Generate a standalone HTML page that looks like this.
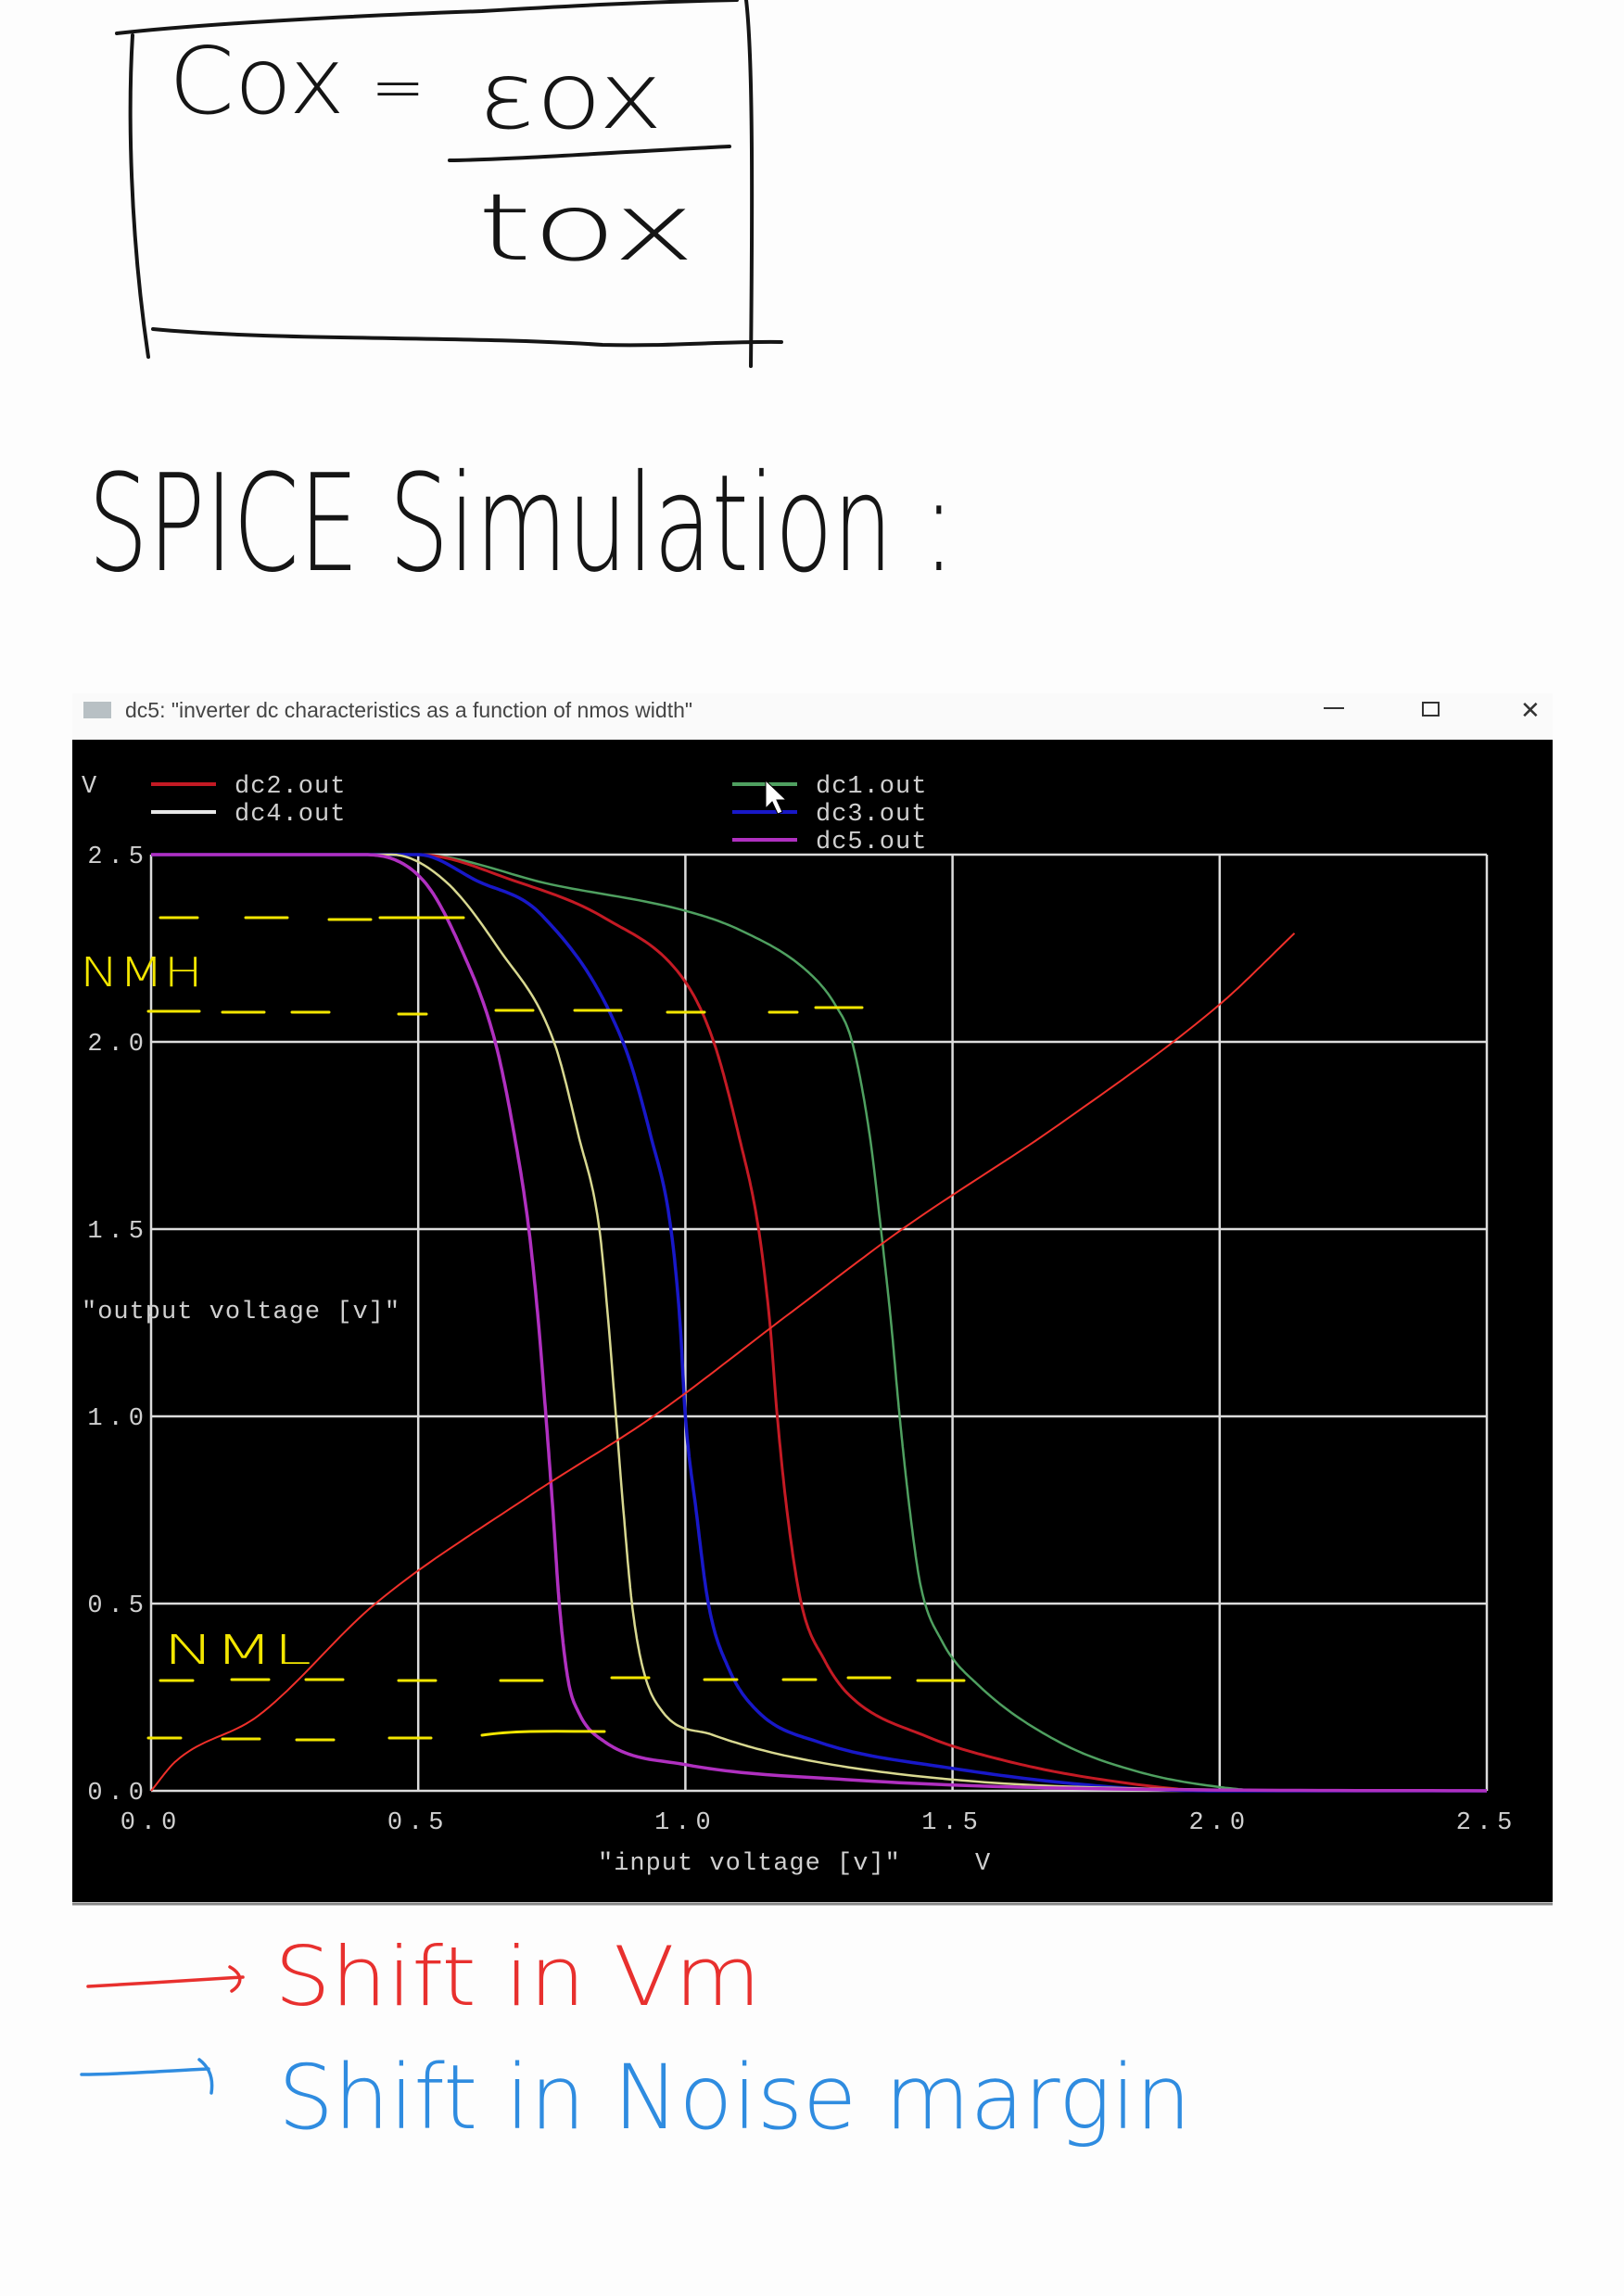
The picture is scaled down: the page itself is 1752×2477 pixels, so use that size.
<!DOCTYPE html>
<html><head><meta charset="utf-8">
<style>
html,body{margin:0;padding:0;background:#fdfdfd;}
svg{display:block;}
.hw{font-family:"DejaVu Sans","Liberation Sans",sans-serif;font-weight:200;}
.mono{font-family:"Liberation Mono","DejaVu Sans Mono",monospace;fill:#d0d0d0;font-size:27px;}
</style></head>
<body>
<svg id="page" width="1752" height="2477" viewBox="0 0 1752 2477" xmlns="http://www.w3.org/2000/svg">
<rect x="0" y="0" width="1752" height="2477" fill="#fdfdfd"/>
<g fill="none" stroke="#151515" stroke-width="4" stroke-linecap="round">
<path d="M126 36 C180 30 300 20 520 12 C620 6 700 2 795 0"/>
<path d="M143 38 C138 120 140 250 160 385"/>
<path d="M805 0 C812 60 812 200 810 395"/>
<path d="M165 355 C300 368 500 362 650 372 C720 374 780 368 843 369"/>
<path d="M485 173 C560 172 700 162 787 158"/>
</g>
<text class="hw" x="182" y="122" font-size="100" fill="#151515" textLength="190" lengthAdjust="spacingAndGlyphs">Cox</text>
<text class="hw" x="400" y="118" font-size="70" fill="#151515">=</text>
<text class="hw" x="515" y="138" font-size="100" fill="#151515" textLength="200" lengthAdjust="spacingAndGlyphs">εox</text>
<text class="hw" x="515" y="280" font-size="100" fill="#151515" textLength="235" lengthAdjust="spacingAndGlyphs">tox</text>
<text class="hw" x="95" y="615" font-size="145" fill="#151515" textLength="935" lengthAdjust="spacingAndGlyphs">SPICE Simulation :</text>

<rect x="78" y="748" width="1597" height="50" fill="#fafafa"/>
<rect x="90" y="757" width="30" height="18" fill="#b8c0c4"/>
<text x="135" y="774" font-family="Liberation Sans,sans-serif" font-size="23" fill="#444">dc5: "inverter dc characteristics as a function of nmos width"</text>
<line x1="1428" y1="764" x2="1450" y2="764" stroke="#333" stroke-width="2"/>
<rect x="1535" y="758" width="17" height="14" fill="none" stroke="#333" stroke-width="2"/>
<text x="1640" y="775" font-family="Liberation Sans,sans-serif" font-size="26" fill="#333">✕</text>

<rect x="78" y="798" width="1597" height="1254" fill="#000"/>
<line x1="78" y1="2054" x2="1675" y2="2054" stroke="#888" stroke-width="3"/>
<g id="chart"></g>

<g stroke="#f3e600" stroke-width="3" fill="none" stroke-linecap="round">
<path d="M173 990 h40 M265 990 h45 M355 992 h45 M410 990 h45 M450 990 h50" />
<path d="M160 1091 h55 M240 1092 h45 M315 1092 h40 M430 1094 h30 M535 1090 h40 M620 1090 h50 M720 1092 h40 M830 1092 h30 M880 1087 h50"/>
<path d="M173 1813 h35 M250 1812 h40 M330 1812 h40 M430 1813 h40 M540 1813 h45 M660 1810 h40 M760 1812 h35 M845 1812 h35 M915 1810 h45 M990 1813 h50"/>
<path d="M160 1875 h35 M240 1876 h40 M320 1877 h40 M420 1875 h45 M520 1872 C560 1866 610 1868 652 1868"/>
</g>
<text x="86" y="1064" font-family="DejaVu Sans,Liberation Sans,sans-serif" font-weight="200" font-size="44" fill="#f3e600" textLength="133" lengthAdjust="spacingAndGlyphs">NMH</text>
<text x="176" y="1795" font-family="DejaVu Sans,Liberation Sans,sans-serif" font-weight="200" font-size="44" fill="#f3e600" textLength="160" lengthAdjust="spacingAndGlyphs">NML</text>

<path d="M826 842 L826 872 L833 865 L839 878 L844 876 L838 863 L848 863 Z" fill="#fff" stroke="#000" stroke-width="1"/>

<g fill="none" stroke-width="3.5" stroke-linecap="round">
<path d="M95 2143 C150 2140 210 2136 262 2133 M248 2122 C262 2130 262 2140 250 2148" stroke="#e8302e"/>
<path d="M88 2238 C130 2238 180 2234 225 2232 M215 2222 C228 2232 230 2245 228 2258" stroke="#2f8ce0"/>
</g>
<text class="hw" x="296" y="2163" font-size="88" fill="#e8302e" textLength="525" lengthAdjust="spacingAndGlyphs">Shift in Vm</text>
<text class="hw" x="300" y="2296" font-size="96" fill="#2f8ce0" textLength="985" lengthAdjust="spacingAndGlyphs">Shift in Noise margin</text>
</svg>
<script>
const xTicks = [0, 0.5, 1.0, 1.5, 2.0, 2.5];
const yTicks = [0, 0.5, 1.0, 1.5, 2.0, 2.5];
const xTickLabels = ["0.0","0.5","1.0","1.5","2.0","2.5"];
const yTickLabels = ["0.0","0.5","1.0","1.5","2.0","2.5"];
const dc1Vin = [0,0.5,0.75,1.0,1.1,1.227,1.28,1.312,1.345,1.366,1.385,1.401,1.42,1.44,1.48,1.55,1.70,1.85,2.0,2.1,2.5];
const dc1Vout = [2.5,2.5,2.42,2.35,2.3,2.19,2.1,2.0,1.75,1.5,1.25,1.0,0.75,0.55,0.4,0.28,0.13,0.05,0.01,0,0];
const dc2Vin = [0,0.5,0.68,0.85,1.0,1.053,1.10,1.137,1.158,1.172,1.19,1.217,1.26,1.307,1.45,1.6,1.78,2.0,2.5];
const dc2Vout = [2.5,2.5,2.43,2.33,2.16,2.0,1.75,1.5,1.25,1.0,0.75,0.5,0.35,0.255,0.146,0.08,0.03,0,0];
const dc3Vin = [0,0.5,0.61,0.73,0.883,0.935,0.973,0.99,1.0,1.02,1.043,1.08,1.137,1.25,1.5,1.8,2.0,2.5];
const dc3Vout = [2.5,2.5,2.43,2.34,2.0,1.75,1.5,1.25,1.0,0.75,0.5,0.33,0.21,0.13,0.06,0.01,0,0];
const dc4Vin = [0,0.45,0.55,0.65,0.754,0.80,0.839,0.856,0.870,0.884,0.900,0.92,0.958,1.05,1.2,1.5,1.9,2.5];
const dc4Vout = [2.5,2.5,2.43,2.25,2.0,1.75,1.5,1.25,1.0,0.75,0.5,0.33,0.21,0.15,0.09,0.03,0.005,0];
const dc5Vin = [0,0.4,0.51,0.58,0.644,0.68,0.707,0.725,0.739,0.752,0.764,0.78,0.80,0.85,1.0,1.3,1.8,2.5];
const dc5Vout = [2.5,2.5,2.43,2.25,2.0,1.75,1.5,1.25,1.0,0.75,0.5,0.3,0.21,0.13,0.07,0.03,0.005,0];
const vmLineVin = [0,0.047,0.2,0.42,0.7,0.94,1.2,1.406,1.7,2.0,2.14];
const vmLineVout = [0,0.08,0.2,0.5,0.78,1.0,1.28,1.5,1.78,2.1,2.29];

const NS = "http://www.w3.org/2000/svg";
const X0 = 163, X1 = 1604, Y0 = 1932, Y1 = 922;
function sx(v){ return X0 + (X1 - X0) * v / 2.5; }
function sy(v){ return Y0 - (Y0 - Y1) * v / 2.5; }
const chart = document.getElementById('chart');
function mk(tag, attrs){ const e = document.createElementNS(NS, tag); for (const k in attrs) e.setAttribute(k, attrs[k]); chart.appendChild(e); return e; }

xTicks.forEach((t, i) => {
  const l = mk('line', {x1: sx(t), x2: sx(t), y1: sy(2.5), y2: sy(0), stroke: '#dcdcdc', 'stroke-width': 2.5});
  
  
  const tx = mk('text', {x: sx(t), y: 1973, 'text-anchor': 'middle', class: 'mono', 'letter-spacing': '6'});
  tx.textContent = xTickLabels[i];
  
  
});
yTicks.forEach((t, i) => {
  const l = mk('line', {x1: sx(0), x2: sx(2.5), y1: sy(t), y2: sy(t), stroke: '#dcdcdc', 'stroke-width': 2.5});
  
  
  const tx = mk('text', {x: 161, y: sy(t) + 9, 'text-anchor': 'end', class: 'mono', 'letter-spacing': '6'});
  tx.textContent = yTickLabels[i];
  
  
});

// monotone cubic (Fritsch-Carlson) interpolation, sampled densely
function monoPath(xs, ys){
  const n = xs.length, d = [], m = [];
  for (let i = 0; i < n - 1; i++) d.push((ys[i+1]-ys[i]) / (xs[i+1]-xs[i]));
  m[0] = d[0]; m[n-1] = d[n-2];
  for (let i = 1; i < n - 1; i++) m[i] = (d[i-1]*d[i] <= 0) ? 0 : (d[i-1] + d[i]) / 2;
  for (let i = 0; i < n - 1; i++) {
    if (d[i] === 0) { m[i] = 0; m[i+1] = 0; continue; }
    const a = m[i]/d[i], b = m[i+1]/d[i], s = a*a + b*b;
    if (s > 9) { const t = 3/Math.sqrt(s); m[i] = t*a*d[i]; m[i+1] = t*b*d[i]; }
  }
  let path = 'M' + sx(xs[0]).toFixed(1) + ' ' + sy(ys[0]).toFixed(1);
  for (let i = 0; i < n - 1; i++) {
    const h = xs[i+1] - xs[i];
    for (let k = 1; k <= 20; k++) {
      const t = k / 20, t2 = t*t, t3 = t2*t;
      const y = (2*t3-3*t2+1)*ys[i] + (t3-2*t2+t)*h*m[i] + (-2*t3+3*t2)*ys[i+1] + (t3-t2)*h*m[i+1];
      path += ' L' + sx(xs[i] + t*h).toFixed(1) + ' ' + sy(y).toFixed(1);
    }
  }
  return path;
}
const series = [
  [dc1Vin, dc1Vout, '#4fa060', 'dc1-curve', 2.5],
  [dc2Vin, dc2Vout, '#c41a24', 'dc2-curve', 3],
  [dc3Vin, dc3Vout, '#1818c8', 'dc3-curve', 3.5],
  [dc4Vin, dc4Vout, '#d8d890', 'dc4-curve', 2.5],
  [dc5Vin, dc5Vout, '#b030c0', 'dc5-curve', 3.5]
];
series.forEach(s => {
  const p = mk('path', {d: monoPath(s[0], s[1]), fill: 'none', stroke: s[2], 'stroke-width': s[4], 'stroke-linejoin': 'round'});
  
  
});
const vm = mk('path', {d: monoPath(vmLineVin, vmLineVout), fill: 'none', stroke: '#f0302a', 'stroke-width': 2});



const legend = [
  [163, 846, '#c41a24', 'dc2.out'], [163, 876, '#e8e8e8', 'dc4.out'],
  [790, 846, '#4fa060', 'dc1.out'], [790, 876, '#1818c8', 'dc3.out'], [790, 906, '#b030c0', 'dc5.out']
];
legend.forEach(L => {
  const l = mk('line', {x1: L[0], x2: L[0] + 70, y1: L[1], y2: L[1], stroke: L[2], 'stroke-width': 4});
  
  
  const t = mk('text', {x: L[0] + 90, y: L[1] + 9, class: 'mono', 'letter-spacing': '1'});
  t.textContent = L[3];
  
  
});
const vl = mk('text', {x: 88, y: 855, class: 'mono'}); vl.textContent = 'V';


const yt = mk('text', {x: 88, y: 1422, class: 'mono', 'letter-spacing': '1'}); yt.textContent = '"output voltage [v]"';


const xt = mk('text', {x: 645, y: 2017, class: 'mono', 'letter-spacing': '1'}); xt.textContent = '"input voltage [v]"';


const xu = mk('text', {x: 1052, y: 2017, class: 'mono'}); xu.textContent = 'V';


</script>
</body></html>
